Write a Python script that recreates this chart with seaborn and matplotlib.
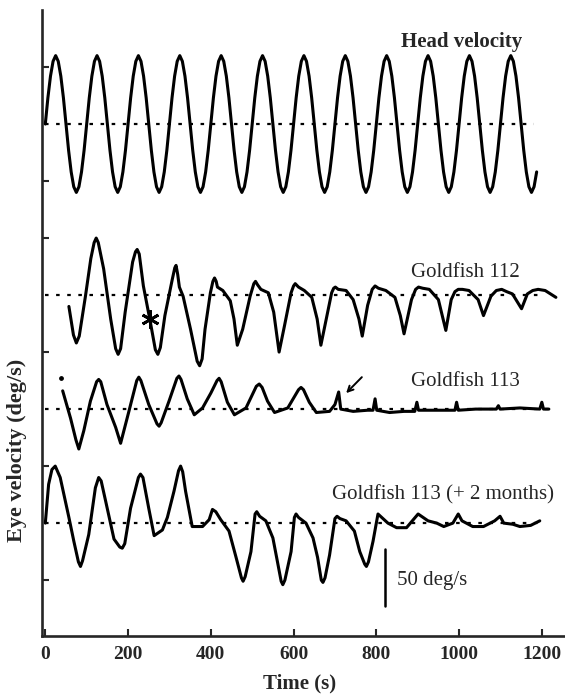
import numpy as np
import pandas as pd
import matplotlib
matplotlib.use("Agg")
import matplotlib.pyplot as plt
import seaborn as sns

# ---------------- data (deg/s) ----------------
# Head velocity: sampled every 6.25 s
head_dt = 6.25
head_vel = [
    0, 23, 42, 55, 60, 55, 42, 23, 0, -23, -42, -55, -60, -55, -42, -23,
    0, 23, 42, 55, 60, 55, 42, 23, 0, -23, -42, -55, -60, -55, -42, -23,
    0, 23, 42, 55, 60, 55, 42, 23, 0, -23, -42, -55, -60, -55, -42, -23,
    0, 23, 42, 55, 60, 55, 42, 23, 0, -23, -42, -55, -60, -55, -42, -23,
    0, 23, 42, 55, 60, 55, 42, 23, 0, -23, -42, -55, -60, -55, -42, -23,
    0, 23, 42, 55, 60, 55, 42, 23, 0, -23, -42, -55, -60, -55, -42, -23,
    0, 23, 42, 55, 60, 55, 42, 23, 0, -23, -42, -55, -60, -55, -42, -23,
    0, 23, 42, 55, 60, 55, 42, 23, 0, -23, -42, -55, -60, -55, -42, -23,
    0, 23, 42, 55, 60, 55, 42, 23, 0, -23, -42, -55, -60, -55, -42, -23,
    0, 23, 42, 55, 60, 55, 42, 23, 0, -23, -42, -55, -60, -55, -42, -23,
    0, 23, 42, 55, 60, 55, 42, 23, 0, -23, -42, -55, -60, -55, -42, -23,
    0, 23, 42, 55, 60, 55, 42, 23, 0, -23, -42, -55, -60, -55, -42,
]
head_t = [i * head_dt for i in range(len(head_vel))]

g112_t = [57, 68, 75, 82, 97, 110, 118, 123, 128, 141, 158, 170, 176, 182,
          193, 211, 218, 222, 227, 237, 254, 266, 272, 278,
          289, 307, 313, 316, 320, 324, 333, 351, 367, 373, 379, 386, 399, 405,
          409, 413, 416, 429, 447, 456,
          464, 477, 495, 504, 508, 513, 521, 539, 552, 565, 578, 594, 600, 604,
          612, 626, 644, 657, 666, 679, 692, 697, 701, 708, 727, 744, 758, 766,
          779, 790, 797, 805, 823, 845, 858, 867, 885, 895, 902, 912, 928, 950,
          968, 981, 990, 998, 1008, 1024, 1046, 1059, 1077, 1090, 1103, 1115,
          1129, 1151, 1165, 1178, 1191, 1208, 1221, 1234]
g112_v = [-10, -35, -42, -36, -1, 32, 46, 50, 46, 23, -21, -47, -52, -47,
          -15, 29, 38, 40, 36, 8, -24, -48, -52, -46,
          -18, 14, 24, 26, 18, 7, -1, -30, -58, -62, -56, -30, 2, 12,
          15, 12, 7, 4, -5, -21,
          -44, -30, -1, 10, 12, 9, 5, 2, -15, -50, -27, 2, 8, 10,
          7, 4, -2, -21, -44, -21, 2, 6, 7, 5, 4, -4, -21, -36,
          -9, 5, 8, 6, 4, -2, -18, -34, -4, 5, 7, 6, 5, -4,
          -31, -4, 3, 5, 5, 4, -4, -18, -1, 4, 5, 3,
          1, -12, 1, 4, 5, 4, 1, -2]

g113_t = [42, 61, 74, 81, 93, 109, 124, 129, 134, 149, 170, 182, 202, 221,
          226, 231, 250, 270, 275, 280, 299, 318, 323, 328, 343, 360, 380, 400,
          415, 420, 425, 440, 457, 485, 510, 517, 524, 537, 554, 586, 612, 618,
          624, 638, 655, 687, 700, 709, 714, 744, 779, 792, 797, 801, 832, 867,
          893, 898, 902, 937, 975, 990, 994, 998, 1040, 1090, 1095, 1099, 1147,
          1195, 1200, 1204, 1217]
g113_v = [16, -8, -27, -35, -19, 7, 24, 26, 24, 4, -16, -30, -2, 25,
          28, 25, 4, -13, -15, -12, 7, 27, 29, 26, 9, -5, 1, 14,
          25, 27, 24, 6, -5, 1, 20, 22, 19, 7, -3, 1, 17, 19,
          17, 6, -3, -2, 4, 15, 0, -2, -1, -1, 9, -1, -3, -2,
          -2, 6, -1, -1, -1, -1, 6, -1, 0, 0, 3, 0, 1,
          0, 6, 0, 0]
g113_dot_t = [38]
g113_dot_v = [27]

g113b_t = [0, 8, 16, 24, 36, 57, 69, 80, 85, 90, 105, 121, 129, 135, 146,
           166, 180, 186, 192, 206, 225, 230, 236, 250, 263, 283, 295, 311, 322,
           327, 332, 339, 355, 380, 396, 404, 412, 424, 444, 461, 474, 478, 483,
           497, 507, 511, 518, 533, 550, 559, 570, 574, 579, 594, 602, 606, 612,
           630, 647, 658, 667, 671, 676, 687, 700, 705, 712, 727, 747, 760, 772,
           776, 781, 792, 804, 828, 849, 873, 901, 925, 946, 963, 985, 998, 1007,
           1033, 1059, 1086, 1099, 1108, 1130, 1147, 1173, 1195]
g113b_v = [0, 34, 47, 50, 40, 5, -16, -34, -38, -33, -10, 31, 40, 37, 19,
           -14, -21, -22, -18, 13, 40, 43, 40, 13, -11, -6, 5, 28, 46,
           50, 45, 28, -3, -3, 3, 12, 10, 3, -7, -30, -48, -51, -47,
           -25, 8, 10, 6, 2, -13, -30, -51, -54, -50, -25, 5, 8, 5,
           0, -13, -30, -50, -52, -48, -28, 4, 6, 4, 2, -7, -25, -36,
           -38, -34, -16, 8, 0, -4, -4, 8, 2, 0, -3, 0, 8, 2,
           -3, -3, 2, 6, 0, -1, -3, -2, 2]

trace_names = ["Head velocity", "Goldfish 112", "Goldfish 113",
               "Goldfish 113 (+ 2 months)"]
trace_offsets = [0, -150, -250, -350]      # vertical stacking (deg/s)
zero_line_end = [1180, 1190, 1215, 1195]
y_ticks = [50, -50, -100, -200, -300, -400]
x_ticks = [0, 200, 400, 600, 800, 1000, 1200]
scale_bar_t = 822
scale_bar_v = [-373, -423]
asterisk_t, asterisk_v = 253, -21          # on Goldfish 112
arrow_tail = (765, -222)
arrow_head = (727, -236)

# ---------------- figure ----------------
sns.set_style("ticks")
plt.rcParams["font.family"] = ["Liberation Serif", "DejaVu Serif"]
plt.rcParams["axes.linewidth"] = 1.9

W, H = 565, 695
fig = plt.figure(figsize=(W / 100, H / 100), dpi=100)
ax = fig.add_axes([42 / W, 1 - 636 / H, 1 - 42 / W, (636 - 10) / H])

series = [(head_t, head_vel), (g112_t, g112_v), (g113_t, g113_v),
          (g113b_t, g113b_v)]
frames = []
for name, off, (tt, vv) in zip(trace_names, trace_offsets, series):
    frames.append(pd.DataFrame({"t": tt, "v": np.asarray(vv, float) + off,
                                "trace": name}))
df = pd.concat(frames, ignore_index=True)

for name, off, xe in zip(trace_names, trace_offsets, zero_line_end):
    ax.plot([0, xe], [off, off], color="black", lw=1.6,
            linestyle=(0, (1.6, 3.4)), zorder=1)

sns.lineplot(data=df, x="t", y="v", units="trace", estimator=None,
             sort=False, color="black", lw=2.2, ax=ax, zorder=3)
for ln in ax.get_lines():
    ln.set_solid_joinstyle("round")
    ln.set_solid_capstyle("round")

ax.scatter(g113_dot_t, np.asarray(g113_dot_v) + trace_offsets[2],
           s=6, color="black", zorder=3)

ax.plot([asterisk_t], [asterisk_v + trace_offsets[1]], marker=(6, 2, 0),
        markersize=13, mew=2.0, color="black", zorder=4)

ax.annotate("", xy=arrow_head, xytext=arrow_tail,
            arrowprops=dict(arrowstyle="->", lw=1.4, color="black",
                            shrinkA=0, shrinkB=0))

ax.plot([scale_bar_t, scale_bar_t], scale_bar_v, color="black", lw=1.8)

ax.set_xlim(-8, 1256)
ax.set_ylim(-449, 100)
ax.set_xticks(x_ticks)
ax.set_xticklabels([str(v) for v in x_ticks], fontweight="bold", fontsize=14)
ax.set_yticks(y_ticks)
ax.set_yticklabels([])
ax.tick_params(axis="both", direction="in", length=5, width=1.5, pad=7)
ax.set_xlabel("")
ax.set_ylabel("")
for s in ["top", "right"]:
    ax.spines[s].set_visible(False)

def ftxt(px, py, s, **kw):
    fig.text(px / W, 1 - py / H, s, va="center", **kw)

ftxt(522, 42, "Head velocity", ha="right", fontsize=15, fontweight="bold")
ftxt(520, 272, "Goldfish 112", ha="right", fontsize=15)
ftxt(520, 382, "Goldfish 113", ha="right", fontsize=15)
ftxt(554, 495, "Goldfish 113 (+ 2 months)", ha="right", fontsize=15)
ftxt(397, 580, "50 deg/s", ha="left", fontsize=15)
ftxt(17, 450, "Eye velocity (deg/s)", ha="center", rotation=90,
     fontsize=16, fontweight="bold")
ftxt(300, 683, "Time (s)", ha="center", fontsize=15, fontweight="bold")

fig.savefig("out.png", dpi=100)
